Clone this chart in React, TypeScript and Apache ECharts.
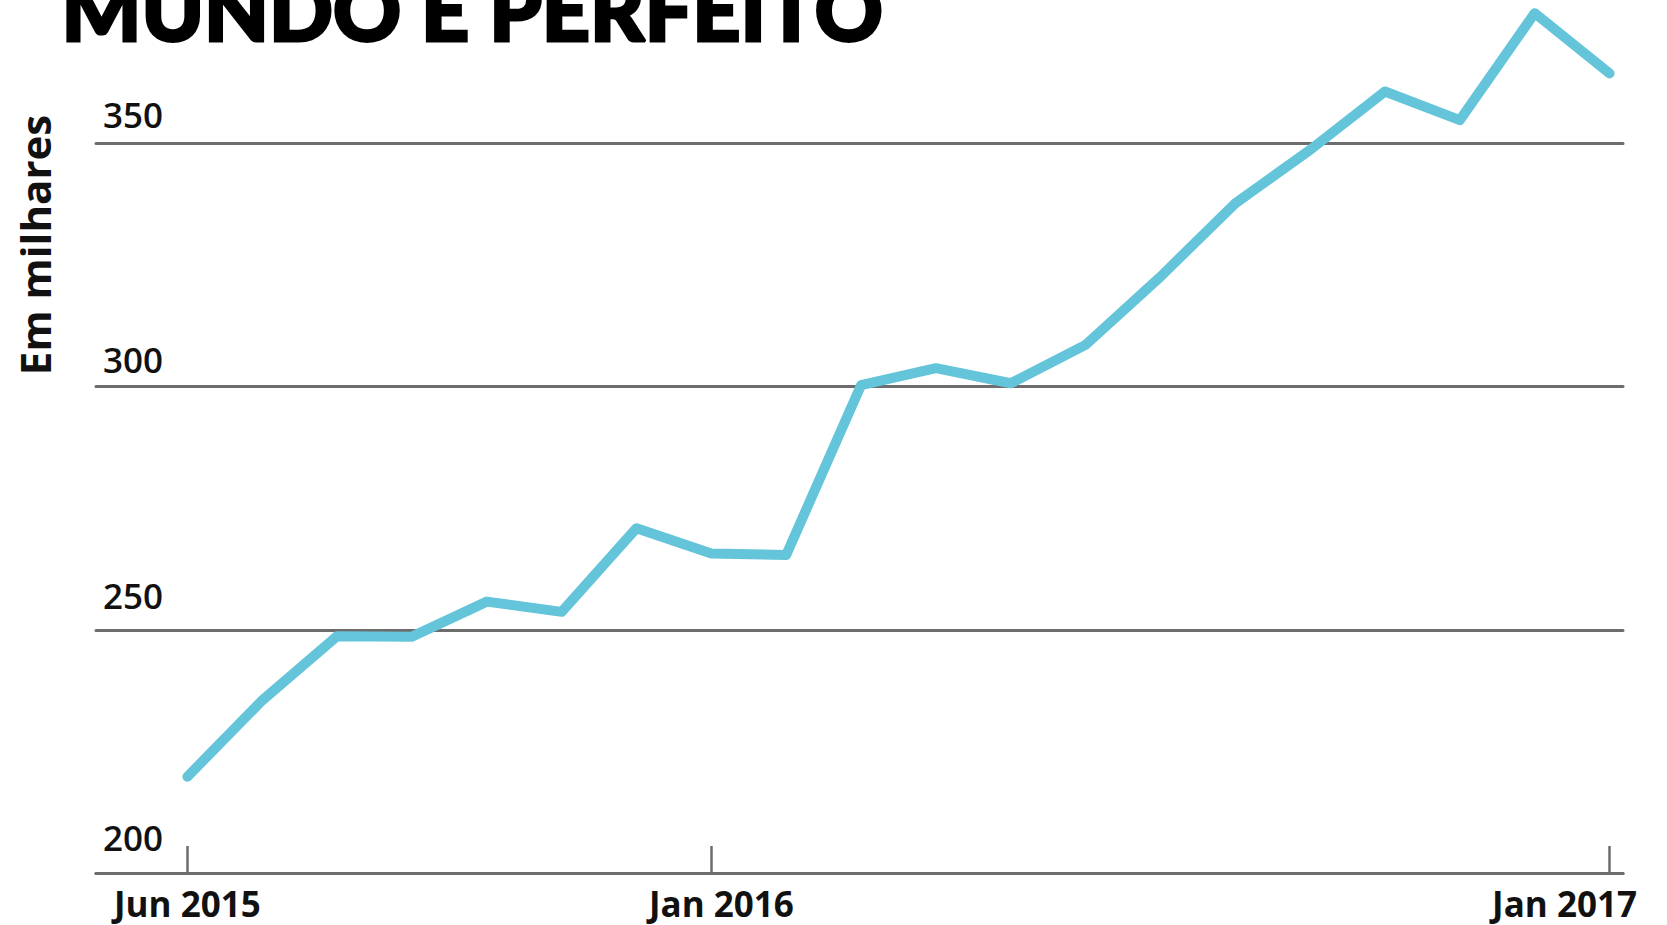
import React, { useEffect, useRef } from "react";
import * as echarts from "echarts";

const months = [
  "Jun 2015", "Jul 2015", "Aug 2015", "Sep 2015", "Oct 2015", "Nov 2015", "Dec 2015",
  "Jan 2016", "Feb 2016", "Mar 2016", "Apr 2016", "May 2016", "Jun 2016", "Jul 2016",
  "Aug 2016", "Sep 2016", "Oct 2016", "Nov 2016", "Dec 2016", "Jan 2017",
];
const values = [
  219.8, 235.5, 248.7, 248.6, 255.8, 253.7, 270.9, 265.7, 265.4, 300.3,
  303.8, 300.7, 308.6, 322.6, 337.7, 348.7, 360.7, 354.8, 376.8, 364.4,
];
const xTickIndex = [0, 7, 19];
const xTickLabels = ["Jun 2015", "Jan 2016", "Jan 2017"];
const yTicks = [200, 250, 300, 350];
const titleText = "MUNDO E PERFEITO";
const yAxisTitle = "Em milhares";

export default function App() {
  const ref = useRef<HTMLDivElement>(null);
  useEffect(() => {
    if (!ref.current) return;
    const chart = echarts.init(ref.current, undefined, { renderer: "svg" });
    const grey = "#6d6d6d";
    const xFont = { fontFamily: "Open Sans", fontWeight: 700, fontSize: 35, color: "#111" };
    const xRich: Record<string, any> = {
      a0: { ...xFont, padding: [0, 0, 0, 0] },
      a1: { ...xFont, padding: [0, 0, 0, 20] },
      a2: { ...xFont, padding: [0, 90, 0, 0] },
    };
    const yFont = { fontFamily: "Open Sans", fontWeight: 600, fontSize: 35, color: "#111" };
    const yPad: Record<number, number> = { 200: 18, 250: 17, 300: 10, 350: 12 };
    const yRich: Record<string, any> = {};
    yTicks.forEach((t) => {
      yRich["y" + t] = { ...yFont, padding: [0, 0, yPad[t], 0] };
    });
    chart.setOption({
      animation: false,
      backgroundColor: "#ffffff",
      grid: { left: 96, right: 44, top: 143.5, bottom: 52, containLabel: false },
      xAxis: {
        type: "value",
        min: -1.221,
        max: 19.18,
        splitLine: { show: false },
        axisLine: { show: true, lineStyle: { color: grey, width: 3, cap: "round" } },
        axisTick: {
          show: true,
          inside: true,
          length: 27,
          customValues: xTickIndex,
          lineStyle: { color: grey, width: 2.5 },
        },
        axisLabel: {
          show: true,
          customValues: xTickIndex,
          margin: 13,
          formatter: (v: number) => {
            const k = xTickIndex.indexOf(Math.round(v));
            return k >= 0 ? `{a${k}|${xTickLabels[k]}}` : "";
          },
          rich: xRich,
        },
      },
      yAxis: {
        type: "value",
        min: yTicks[0],
        max: yTicks[yTicks.length - 1],
        interval: 50,
        axisLine: { show: false },
        axisTick: { show: false },
        splitLine: { show: true, lineStyle: { color: grey, width: 3, cap: "round" } },
        axisLabel: {
          show: true,
          inside: true,
          margin: 7,
          align: "left",
          verticalAlign: "bottom",
          formatter: (v: number) => `{y${v}|${v}}`,
          rich: yRich,
        },
      },
      series: [
        {
          type: "line",
          data: values.map((v, i) => [i, v]),
          name: "Em milhares",
          showSymbol: false,
          clip: false,
          z: 10,
          lineStyle: { color: "#63c4da", width: 10, cap: "round", join: "round" },
        },
      ],
      graphic: [
        {
          type: "text",
          left: 60,
          top: -35,
          style: {
            text: titleText,
            fontFamily: "Lato",
            fontWeight: 900,
            fontSize: 84,
            fill: "#000",
            stroke: "#000",
            lineWidth: 3,
          },
        },
        {
          type: "text",
          x: 34,
          y: 245,
          rotation: Math.PI / 2,
          style: {
            text: yAxisTitle,
            fontFamily: "Open Sans",
            fontWeight: 700,
            fontSize: 42,
            fill: "#111",
            align: "center",
            verticalAlign: "middle",
          },
        },
      ],
    });
    return () => chart.dispose();
  }, []);
  return (
    <div
      ref={ref}
      style={{ position: "fixed", left: 0, top: 0, width: 1667, height: 925, background: "#fff" }}
    />
  );
}
